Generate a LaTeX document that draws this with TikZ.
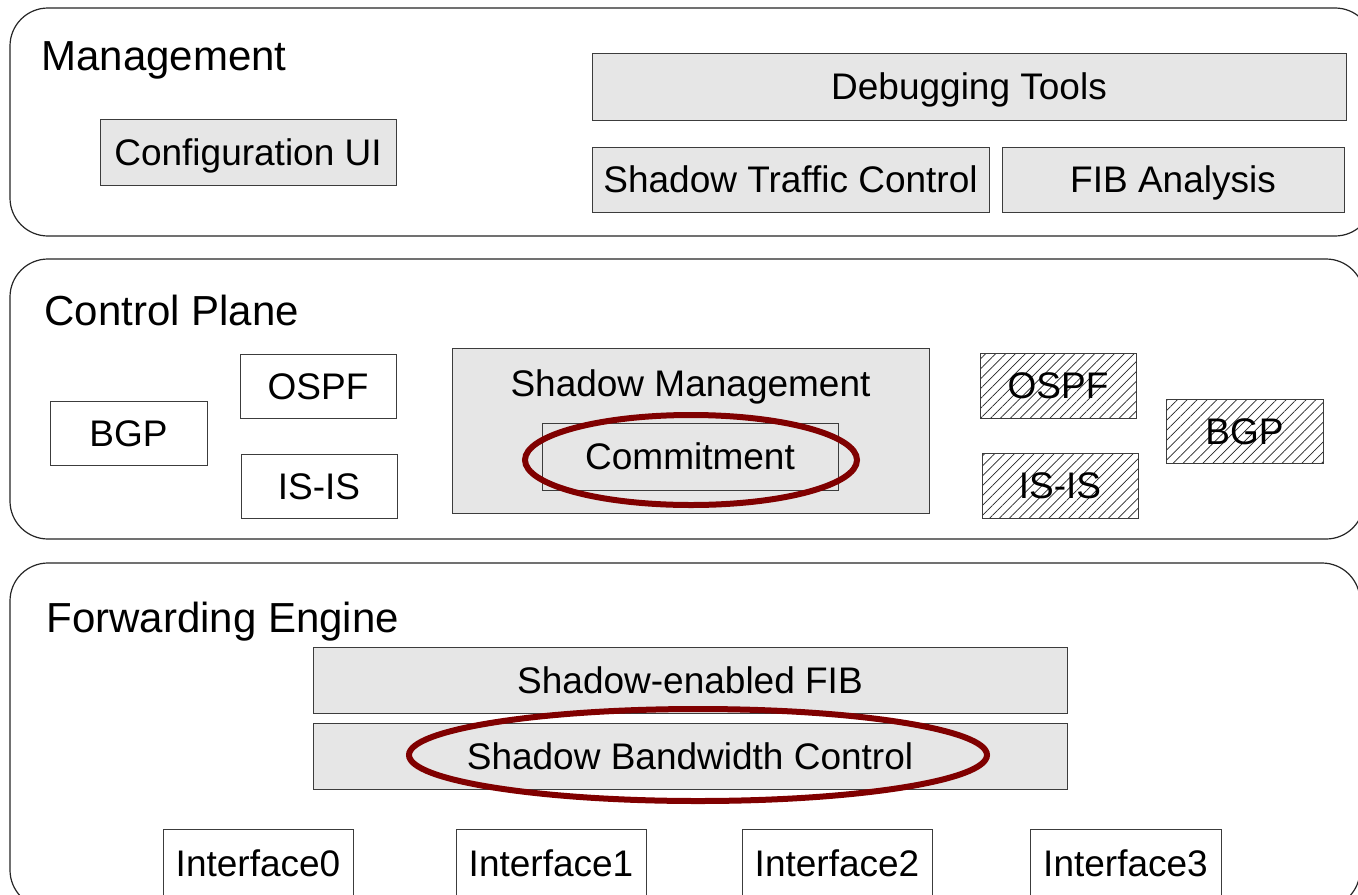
\documentclass[tikz,border=0pt]{standalone}
\usepackage{fontspec}
\setmainfont{Liberation Sans}
\usetikzlibrary{shapes.geometric,patterns.meta}
\definecolor{boxgray}{RGB}{230,230,230}
\definecolor{hlred}{RGB}{128,0,0}
\definecolor{edgegray}{RGB}{60,60,60}
\tikzset{
  panel/.style={draw=black!85, line width=0.6pt, rounded corners=19pt, inner sep=0pt},
  title/.style={anchor=base west, inner sep=0pt, font=\fontsize{21}{25}\selectfont},
  basebox/.style={draw=edgegray, line width=0.5pt, inner sep=0pt, text height=13.3pt, text depth=0pt,
    font=\fontsize{18.5}{22}\selectfont},
  graybox/.style={basebox, fill=boxgray},
  whitebox/.style={basebox, fill=white},
  hatchbox/.style={basebox, pattern={Lines[angle=45,distance=3.5pt,line width=0.35pt]}, pattern color=black!85},
  lbl/.style={inner sep=0pt, text height=13.3pt, text depth=0pt, font=\fontsize{18.5}{22}\selectfont},
  hl/.style={ellipse, draw=hlred, line width=3pt, inner sep=0pt}
}
\begin{document}
\begin{tikzpicture}[x=0.5pt,y=-0.5pt]
\clip (0,0) rectangle (1358,894);
\fill[white] (0,0) rectangle (1358,894);

% panels
\node[panel, minimum width=681.5pt, minimum height=114pt] (p1) at (691.5,122) {};
\node[panel, minimum width=677pt, minimum height=140pt] (p2) at (687,399) {};
\node[panel, minimum width=675pt, minimum height=172.5pt] (p3) at (685,735.5) {};

\node[title] (t1) at (41,70) {Management};
\node[title] (t2) at (44,325) {Control Plane};
\node[title] (t3) at (46,632) {Forwarding Engine};

% management
\node[graybox, minimum width=148pt, minimum height=33pt] (conf) at (248,152) {Configuration UI};
\node[graybox, minimum width=377pt, minimum height=33.5pt] (debug) at (969,86.5) {Debugging Tools};
\node[graybox, minimum width=198.5pt, minimum height=32.5pt] (stc) at (790.5,179.5) {Shadow Traffic Control};
\node[graybox, minimum width=171pt, minimum height=32.5pt] (fib) at (1173,179.5) {FIB Analysis};

% control plane
\node[whitebox, minimum width=78.5pt, minimum height=32pt] (bgp) at (128.5,433) {BGP};
\node[whitebox, minimum width=78pt, minimum height=32pt] (ospf) at (318,386) {OSPF};
\node[whitebox, minimum width=78pt, minimum height=32pt] (isis) at (319,486) {IS-IS};
\node[graybox, minimum width=238.5pt, minimum height=82.5pt] (shm) at (690.5,430.5) {};
\node[lbl] (shmlabel) at (690.5,383) {Shadow Management};
\node[graybox, minimum width=148pt, minimum height=33.5pt] (commit) at (690,456.5) {Commitment};
\node[hatchbox, minimum width=78pt, minimum height=32.5pt] (hospf) at (1058,385.5) {OSPF};
\node[hatchbox, minimum width=78pt, minimum height=32.5pt] (hisis) at (1060,485.5) {IS-IS};
\node[hatchbox, minimum width=78.5pt, minimum height=32pt] (hbgp) at (1244.5,431) {BGP};

% forwarding engine
\node[graybox, minimum width=377pt, minimum height=33pt] (sfib) at (690,680) {Shadow-enabled FIB};
\node[graybox, minimum width=377pt, minimum height=33pt] (sbw) at (690,756) {Shadow Bandwidth Control};
\node[whitebox, minimum width=95pt, minimum height=34.5pt] (if0) at (258,863.5) {Interface0};
\node[whitebox, minimum width=95pt, minimum height=34.5pt] (if1) at (551,863.5) {Interface1};
\node[whitebox, minimum width=95pt, minimum height=34.5pt] (if2) at (837,863.5) {Interface2};
\node[whitebox, minimum width=95.5pt, minimum height=34.5pt] (if3) at (1125.5,863.5) {Interface3};

% highlights
\node[hl, minimum width=166pt, minimum height=45pt] (hl1) at (691,460) {};
\node[hl, minimum width=289pt, minimum height=46pt] (hl2) at (698,755) {};
\end{tikzpicture}
\end{document}
